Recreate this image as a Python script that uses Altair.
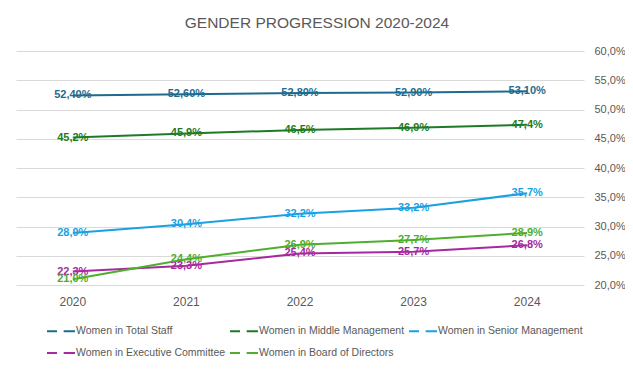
import altair as alt
import pandas as pd

years = ["2020", "2021", "2022", "2023", "2024"]
series = [
    "Women in Total Staff",
    "Women in Middle Management",
    "Women in Senior Management",
    "Women in Executive Committee",
    "Women in Board of Directors",
]
total_staff = [52.40, 52.60, 52.80, 52.90, 53.10]
middle_mgmt = [45.2, 45.9, 46.5, 46.9, 47.4]
senior_mgmt = [28.9, 30.4, 32.2, 33.2, 35.7]
exec_committee = [22.3, 23.3, 25.4, 25.7, 26.8]
board = [21.0, 24.4, 26.9, 27.7, 28.9]
decimals = [2, 1, 1, 1, 1]
colors = ["#1F6B8E", "#1E7B25", "#1BA1E2", "#A6299F", "#4FAE2E"]
y_ticks = [0.20, 0.25, 0.30, 0.35, 0.40, 0.45, 0.50, 0.55, 0.60]

rows = []
for name, vals, dec in zip(series, [total_staff, middle_mgmt, senior_mgmt, exec_committee, board], decimals):
    for yr, v in zip(years, vals):
        rows.append({
            "year": yr,
            "series": name,
            "value": v / 100.0,
            "label": (f"{v:.{dec}f}%").replace(".", ","),
        })
df = pd.DataFrame(rows)

FONT = "Liberation Sans"
GREY = "#595959"

color = alt.Color(
    "series:N",
    scale=alt.Scale(domain=series, range=colors),
    legend=alt.Legend(
        title=None,
        orient="none",
        legendX=30,
        legendY=272,
        columns=3,
        direction="horizontal",
        symbolType="M-1,0H0.43M1.38,0H3",
        symbolSize=196,
        symbolStrokeWidth=2,
        symbolFillColor="transparent",
        labelOffset=14,
        labelFontSize=10.5,
        labelFont=FONT,
        labelColor=GREY,
        columnPadding=0,
        rowPadding=8,
        padding=0,
    ),
)

x = alt.X(
    "year:O",
    sort=years,
    scale=alt.Scale(paddingInner=0, paddingOuter=0, type="band"),
    axis=alt.Axis(
        title=None, labelAngle=0, domain=False, ticks=False, grid=False,
        labelFontSize=12, labelFont=FONT, labelColor=GREY, labelPadding=11,
    ),
)
y = alt.Y(
    "value:Q",
    scale=alt.Scale(domain=[0.2, 0.6], nice=False, zero=False),
    axis=alt.Axis(
        title=None, orient="right", values=y_ticks, domain=False, ticks=False,
        grid=True, gridColor="#D9D9D9", gridWidth=1,
        labelExpr="replace(format(datum.value, '.1%'), '.', ',')",
        labelFontSize=11, labelFont=FONT, labelColor=GREY, labelPadding=10,
    ),
)

base = alt.Chart(df)
lines = base.mark_line(strokeWidth=2).encode(x=x, y=y, color=color, detail="series:N")
labels = base.mark_text(fontWeight="bold", fontSize=11, font=FONT, align="center", baseline="middle").encode(
    x=x, y=y, text="label:N", color=alt.Color("series:N", scale=alt.Scale(domain=series, range=colors), legend=None)
)

chart = (
    alt.layer(lines, labels)
    .properties(
        width=568,
        height=234,
        autosize=alt.AutoSizeParams(type="none"),
        padding={"left": 8, "top": 43, "right": 41, "bottom": 76},
        title=alt.TitleParams(
            "GENDER PROGRESSION 2020-2024",
            fontSize=15.5, font=FONT, fontWeight="normal", color=GREY,
            anchor="middle", dx=17, offset=14,
        ),
    )
    .configure_view(stroke=None)
)

chart.save("out.html", embed_options={"renderer": "svg", "actions": False})
